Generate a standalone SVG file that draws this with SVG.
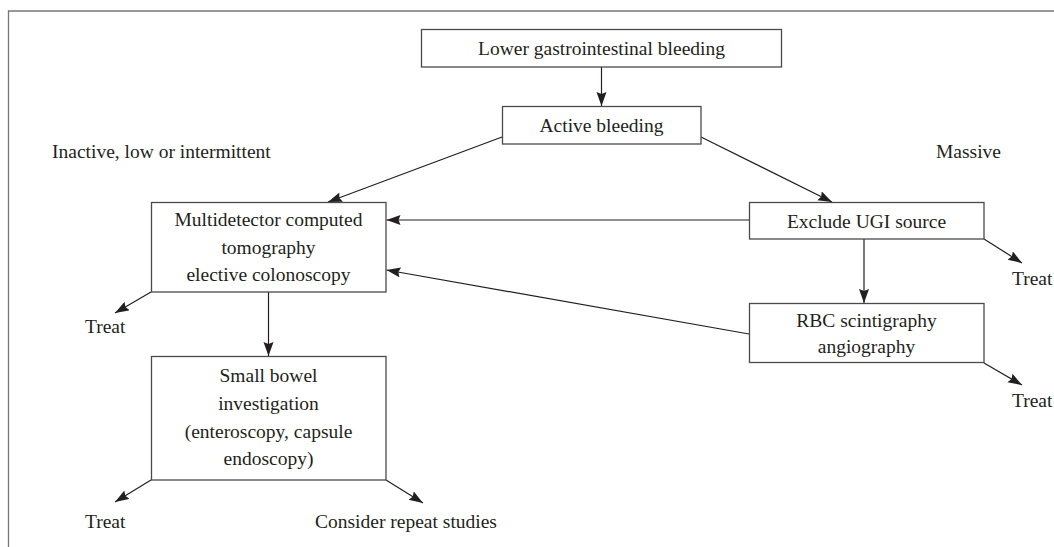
<svg xmlns="http://www.w3.org/2000/svg" width="1054" height="547" viewBox="0 0 1054 547">
<style>
.box{fill:#fff;stroke:#4a4a4a;stroke-width:1.3}
.t{font-size:19.5px;fill:#231f20}
.c{text-anchor:middle}
.ln{stroke:#231f20;stroke-width:1.2;fill:none;marker-end:url(#ah)}
.frame{stroke:#777;stroke-width:1.3;fill:none}
</style>
<defs>
<marker id="ah" markerUnits="userSpaceOnUse" markerWidth="16" markerHeight="12" refX="14" refY="5" orient="auto">
<path d="M0,0 L14,5 L0,10 L2,5 z" fill="#231f20"/>
</marker>
</defs>
<path class="frame" d="M1054,11 H8.5 V547"/>
<g id="connectors">
<line class="ln" x1="601.5" y1="67" x2="601.5" y2="106"/>
<line class="ln" x1="502" y1="137" x2="328" y2="202"/>
<line class="ln" x1="701" y1="137" x2="832" y2="202"/>
<line class="ln" x1="749" y1="220" x2="386.5" y2="220"/>
<line class="ln" x1="984" y1="239" x2="1022" y2="263"/>
<line class="ln" x1="864" y1="239" x2="864" y2="303"/>
<line class="ln" x1="749" y1="334" x2="386.5" y2="270"/>
<line class="ln" x1="984" y1="363" x2="1022" y2="385"/>
<line class="ln" x1="151" y1="292" x2="115" y2="313"/>
<line class="ln" x1="268.5" y1="292" x2="268.5" y2="356"/>
<line class="ln" x1="151" y1="480" x2="115" y2="502"/>
<line class="ln" x1="386" y1="480" x2="423" y2="503"/>
</g>
<g font-family="Liberation Serif, DejaVu Serif, serif">
<g id="n-lgib"><rect class="box" x="421.5" y="29.5" width="360" height="37.5"/><text class="t c" x="601.5" y="54.5">Lower gastrointestinal bleeding</text></g>
<g id="n-active"><rect class="box" x="502.5" y="106.5" width="198.5" height="37.5"/><text class="t c" x="601.5" y="132">Active bleeding</text></g>
<g id="n-inactive"><text class="t" x="52" y="158">Inactive, low or intermittent</text></g>
<g id="n-massive"><text class="t" x="936" y="158">Massive</text></g>
<g id="n-mdct"><rect class="box" x="151.5" y="202.5" width="234.5" height="89.5"/><text class="t c" x="268.5" y="226">Multidetector computed</text><text class="t c" x="268.5" y="253.5">tomography</text><text class="t c" x="268.5" y="281">elective colonoscopy</text></g>
<g id="n-ugi"><rect class="box" x="749.5" y="202.5" width="234.5" height="36.5"/><text class="t c" x="866.5" y="227.5">Exclude UGI source</text></g>
<g id="n-treat1"><text class="t" x="1012" y="285">Treat</text></g>
<g id="n-rbc"><rect class="box" x="749.5" y="303.5" width="234.5" height="59"/><text class="t c" x="866.5" y="326.5">RBC scintigraphy</text><text class="t c" x="866.5" y="353">angiography</text></g>
<g id="n-treat2"><text class="t" x="1012" y="407">Treat</text></g>
<g id="n-treat3"><text class="t" x="85" y="333">Treat</text></g>
<g id="n-sb"><rect class="box" x="151.5" y="356.5" width="234.5" height="123.5"/><text class="t c" x="268.5" y="382">Small bowel</text><text class="t c" x="268.5" y="410">investigation</text><text class="t c" x="268.5" y="438">(enteroscopy, capsule</text><text class="t c" x="268.5" y="465">endoscopy)</text></g>
<g id="n-treat4"><text class="t" x="85" y="527.5">Treat</text></g>
<g id="n-repeat"><text class="t" x="315" y="527.5">Consider repeat studies</text></g>
</g>
</svg>
